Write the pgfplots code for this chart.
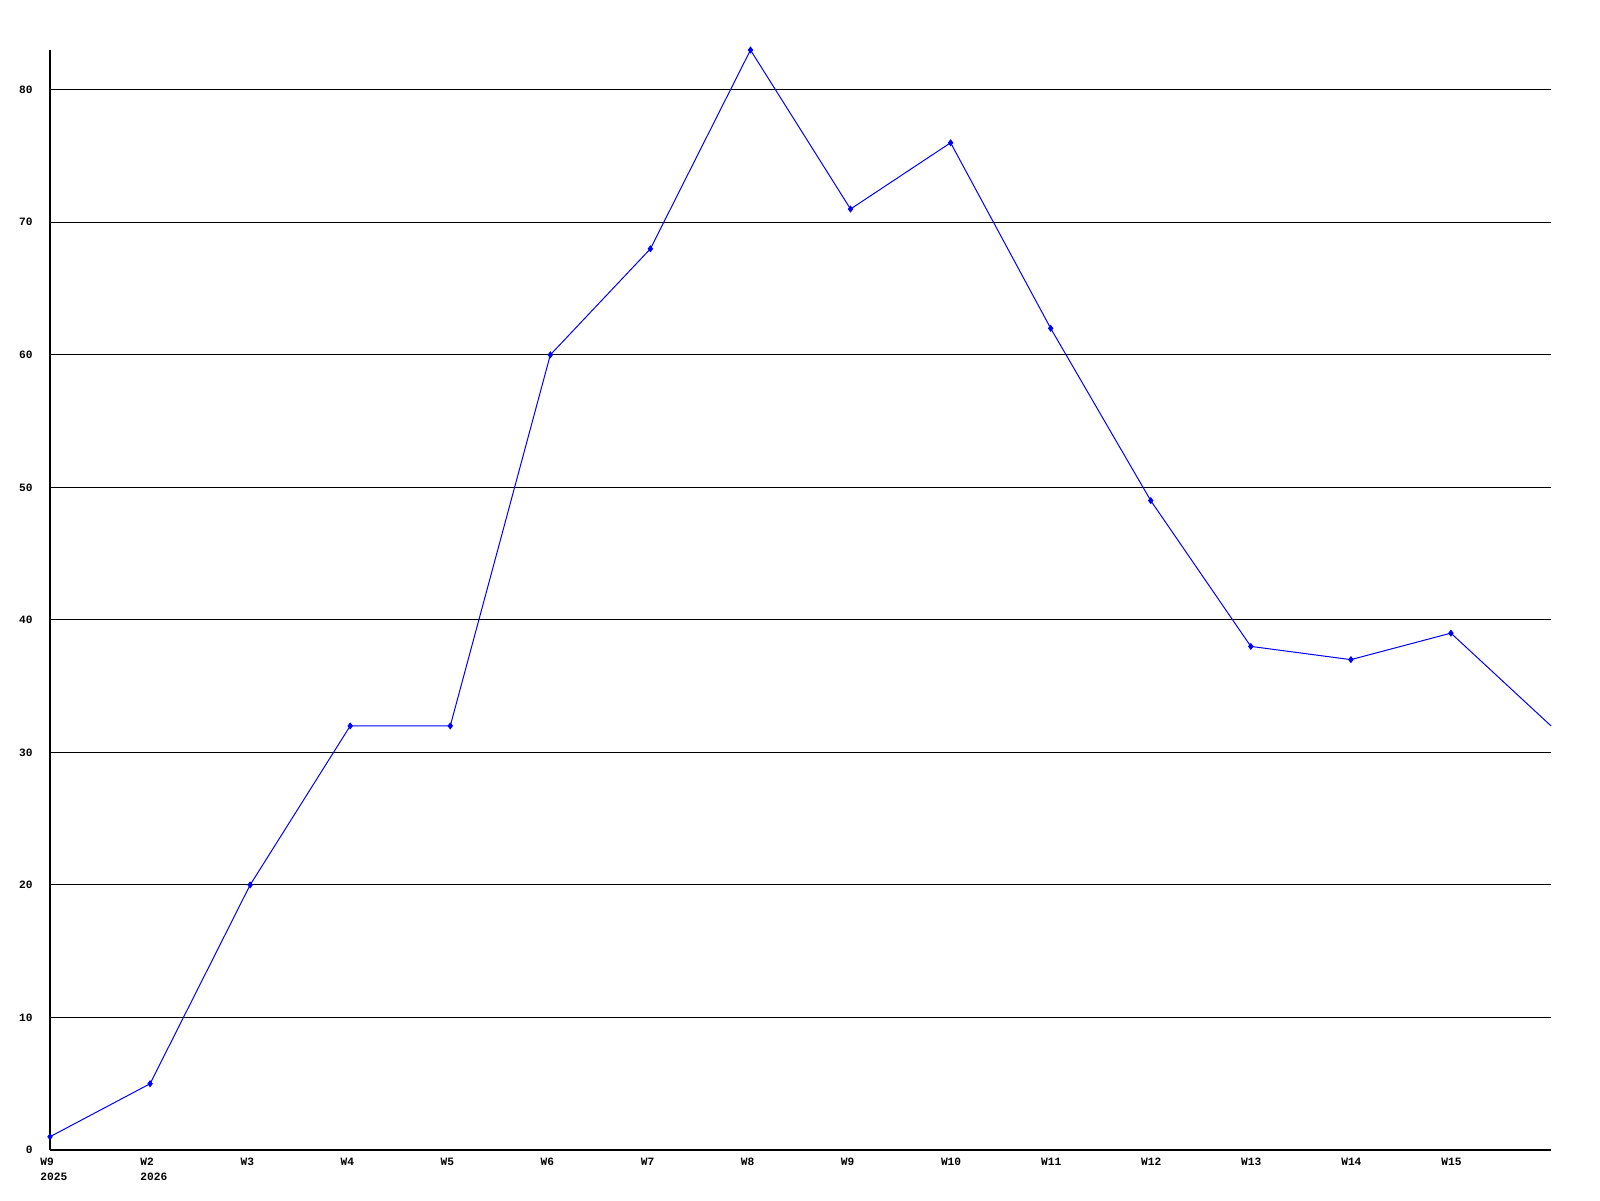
\documentclass[border=0pt]{standalone}
\usepackage{fontspec}
\setmainfont{Liberation Mono}
\usepackage{pgfplots}
\pgfplotsset{compat=1.18}
\begin{document}
\begin{tikzpicture}
% 1 px of the 1600x1200 reference = 0.5pt
\begin{axis}[
    at={(25pt,25pt)}, anchor=south west,
    scale only axis,
    width=750.5pt, height=550pt,
    xmin=0, xmax=15,
    ymin=0, ymax=83,
    axis x line=bottom, axis y line=left,
    axis line style={-, line width=0.6pt, black},
    major tick length=0pt,
    xtick={0,...,14},
    xticklabels={{W9\\2025},{W2\\2026},W3,W4,W5,W6,W7,W8,W9,W10,W11,W12,W13,W14,W15},
    ytick={0,10,...,80},
    ymajorgrids,
    grid style={line width=0.5pt, black},
    tick label style={font=\fontsize{5.6}{7.5}\selectfont\bfseries},
    xticklabel style={anchor=north west, align=left, inner sep=0pt, xshift=-5pt, yshift=-4pt},
    yticklabel style={anchor=east, inner sep=0pt, xshift=-8.5pt},
    /pgf/number format/assume math mode=true,
    clip=false,
]
\addplot[blue, line width=0.5pt, mark=diamond*, mark size=1.4pt, mark options={fill=blue, draw=blue}] coordinates {
    (0,1) (1,5) (2,20) (3,32) (4,32) (5,60) (6,68) (7,83)
    (8,71) (9,76) (10,62) (11,49) (12,38) (13,37) (14,39)
};
\addplot[blue, line width=0.5pt, mark=none] coordinates {(14,39) (15,32)};
\end{axis}
\pgfresetboundingbox
\useasboundingbox (0,0) rectangle (800pt,600pt);
\end{tikzpicture}
\end{document}
